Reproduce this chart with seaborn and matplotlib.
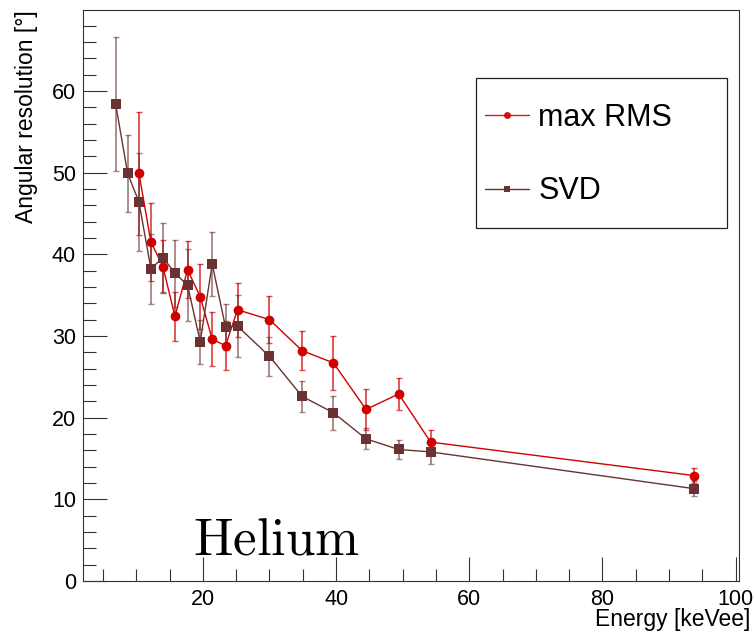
import matplotlib
matplotlib.use("Agg")
import matplotlib.pyplot as plt
import seaborn as sns
import pandas as pd
from matplotlib.ticker import MultipleLocator
from matplotlib.lines import Line2D
from matplotlib.patches import Rectangle

# ---- data ----
svd_energy = [6.9, 8.7, 10.4, 12.2, 14.0, 15.8, 17.7, 19.6, 21.4, 23.4, 25.2, 30.0, 34.9, 39.6, 44.5, 49.4, 54.2, 93.8]
svd_res = [58.4, 49.9, 46.4, 38.2, 39.6, 37.7, 36.2, 29.3, 38.8, 31.1, 31.2, 27.5, 22.6, 20.6, 17.4, 16.1, 15.8, 11.3]
svd_err = [8.2, 4.7, 6.0, 4.3, 4.2, 4.1, 4.4, 2.7, 3.9, 2.8, 3.8, 2.4, 1.9, 2.1, 1.3, 1.2, 1.5, 0.9]

rms_energy = [10.4, 12.2, 14.0, 15.8, 17.7, 19.6, 21.4, 23.4, 25.2, 30.0, 34.9, 39.6, 44.5, 49.4, 54.2, 93.8]
rms_res = [49.9, 41.5, 38.5, 32.4, 38.1, 34.8, 29.6, 28.8, 33.2, 32.0, 28.2, 26.7, 21.0, 22.9, 17.0, 12.9]
rms_err = [7.5, 4.8, 3.2, 3.0, 3.5, 4.0, 3.3, 3.0, 3.3, 2.9, 2.4, 3.3, 2.5, 2.0, 1.5, 0.9]

labels = ["max RMS", "SVD"]
red = "#d00000"
brown = "#6a3232"

df = pd.concat([
    pd.DataFrame({"Energy": rms_energy, "Res": rms_res, "Method": labels[0]}),
    pd.DataFrame({"Energy": svd_energy, "Res": svd_res, "Method": labels[1]}),
])

sns.set_style("white")
plt.rcParams["font.family"] = ["Liberation Sans", "DejaVu Sans"]
plt.rcParams["mathtext.fontset"] = "cm"
plt.rcParams["text.color"] = "black"
plt.rcParams["axes.labelcolor"] = "black"
plt.rcParams["xtick.labelcolor"] = "black"
plt.rcParams["ytick.labelcolor"] = "black"

W, H = 755, 633
fig = plt.figure(figsize=(W / 100, H / 100), dpi=100)
ax = fig.add_axes([83 / W, 1 - 581 / H, (739 - 83) / W, (581 - 10) / H])

# error bars
ax.errorbar(rms_energy, rms_res, yerr=rms_err, fmt="none", ecolor=red, alpha=0.7,
            elinewidth=1.3, capsize=2.5, capthick=1.0, zorder=2)
ax.errorbar(svd_energy, svd_res, yerr=svd_err, fmt="none", ecolor=brown, alpha=0.6,
            elinewidth=1.3, capsize=2.5, capthick=1.0, zorder=2)

sns.lineplot(data=df, x="Energy", y="Res", hue="Method", style="Method",
             palette={labels[0]: red, labels[1]: brown},
             markers={labels[0]: "o", labels[1]: "s"}, dashes=False,
             markersize=7, markeredgewidth=0, linewidth=1.0, sort=False,
             ax=ax, zorder=3, legend=False)

ax.set_xlim(2, 100.5)
ax.set_ylim(0, 69.9)
ax.xaxis.set_major_locator(MultipleLocator(20))
ax.xaxis.set_minor_locator(MultipleLocator(5))
ax.yaxis.set_major_locator(MultipleLocator(10))
ax.yaxis.set_minor_locator(MultipleLocator(2))
ax.tick_params(axis="both", which="major", direction="in", length=17, width=0.8,
               labelsize=15.5, color="#333333", labelcolor="black", top=False, right=False)
ax.tick_params(axis="both", which="minor", direction="in", length=9, width=0.8,
               color="#333333", top=False, right=False)
ax.tick_params(axis="x", which="both", bottom=True, pad=6)
ax.tick_params(axis="y", which="both", left=True, pad=5)
for s in ax.spines.values():
    s.set_color("#333333")
    s.set_linewidth(0.8)

ax.set_xlabel("Energy [keVee]", fontsize=16.5, ha="right", va="top", color="black")
ax.xaxis.set_label_coords((750 - 83) / 656, -(608 - 581) / 571)
ax.set_ylabel("Angular resolution [°]", fontsize=16.5, ha="right", color="black")
ax.yaxis.set_label_coords(-(83 - 38) / 656, 1.0)

ax.text(18.5, 3.2, r"$\mathrm{Helium}$", fontsize=38, ha="left", va="baseline", color="black")

# legend (frame drawn separately, ROOT-like)
fig.patches.append(Rectangle((476 / W, 1 - 228 / H), (727 - 476) / W, (228 - 78) / H,
                             transform=fig.transFigure, fill=False,
                             edgecolor="#222222", linewidth=0.9, zorder=5))
handles = [
    Line2D([], [], color=red, linewidth=1.0, marker="o", markersize=5, markeredgewidth=0, alpha=0.9),
    Line2D([], [], color=brown, linewidth=1.0, marker="s", markersize=5, markeredgewidth=0),
]
leg = fig.legend(handles, labels, loc="upper left",
                 bbox_to_anchor=(485 / W, 1 - 103 / H), bbox_transform=fig.transFigure,
                 fontsize=22, frameon=False, borderpad=0, labelspacing=1.42,
                 handlelength=1.45, handletextpad=0.3, borderaxespad=0,
                 labelcolor="black")

fig.savefig("out.png", dpi=100)
